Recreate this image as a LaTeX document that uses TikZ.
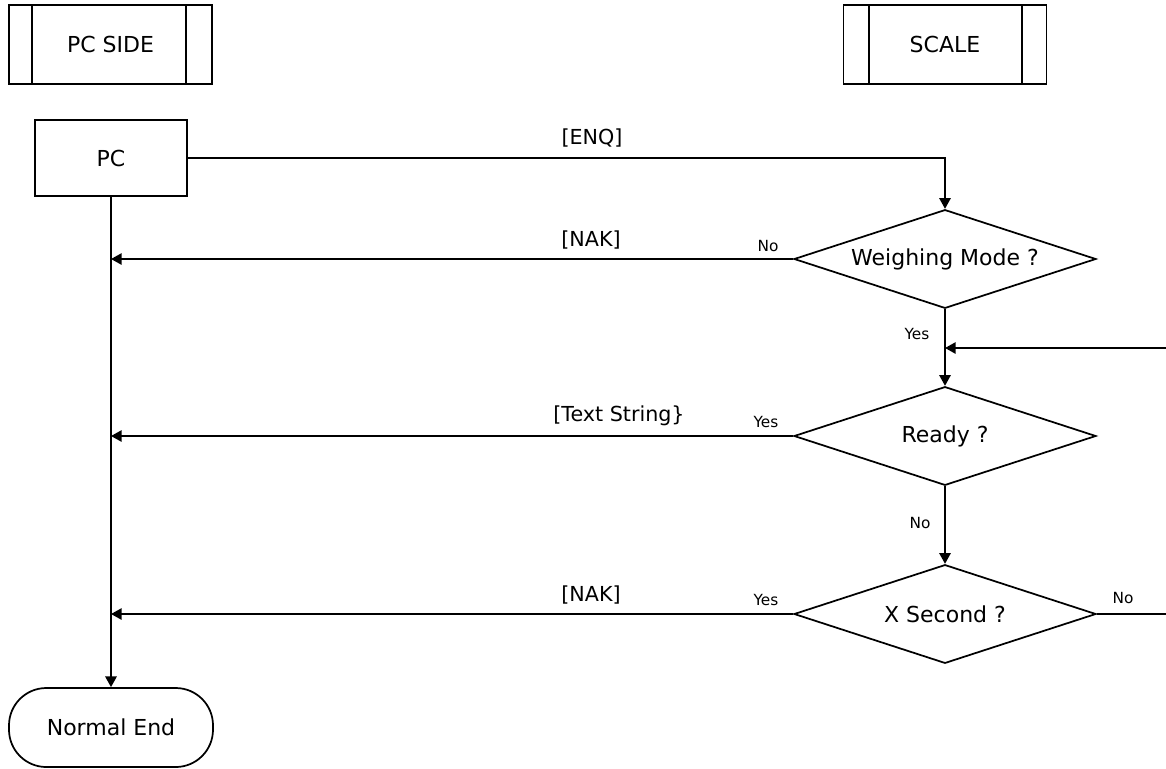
\documentclass[tikz,border=0pt]{standalone}
\usepackage{fontspec}
\setmainfont{DejaVu Sans}
\usetikzlibrary{arrows.meta,shapes.geometric,calc}
\begin{document}
\begin{tikzpicture}[x=0.75pt,y=-0.75pt,
  line width=1.3pt,
  every node/.style={inner sep=0pt},
  main/.style={font=\fontsize{16.5}{19}\selectfont},
  lbl/.style={font=\fontsize{15.5}{18}\selectfont},
  small/.style={font=\fontsize{11.5}{13}\selectfont},
  procbox/.style={draw,rectangle,minimum width=152.25pt,minimum height=59.25pt,main},
  plainbox/.style={draw,rectangle,minimum width=114pt,minimum height=57pt,main},
  dia/.style={draw,diamond,shape aspect=3,minimum width=226.5pt,minimum height=74pt,main},
  term/.style={draw,rectangle,rounded corners=28pt,minimum width=153pt,minimum height=59.25pt,main},
  arr/.style={-{Triangle[length=8pt,width=8.5pt]}}
]
\useasboundingbox (0,0) rectangle (1166,768);

% headers
\node[procbox] (pcside) at (110.5,44.5) {PC SIDE};
\draw ([xshift=18pt]pcside.north west) -- ([xshift=18pt]pcside.south west);
\draw ([xshift=-20pt]pcside.north east) -- ([xshift=-20pt]pcside.south east);
\node[procbox] (scale) at (945,44.5) {SCALE};
\draw ([xshift=20pt]scale.north west) -- ([xshift=20pt]scale.south west);
\draw ([xshift=-19pt]scale.north east) -- ([xshift=-19pt]scale.south east);

% nodes
\node[plainbox] (pc) at (111,158) {PC};
\node[dia] (wm) at (945,259) {Weighing Mode ?};
\node[dia] (rd) at (945,436) {Ready ?};
\node[dia] (xs) at (945,614) {X Second ?};
\node[term] (ne) at (111,727.5) {Normal End};

% helper coordinates
\coordinate (j1) at (pc.south |- wm.west);
\coordinate (j2) at (pc.south |- rd.west);
\coordinate (j3) at (pc.south |- xs.west);
\coordinate (loopin) at (1166,348);
\coordinate (loopout) at (1166,614);

% connectors
\draw[arr] (pc.east) -| (wm.north);
\draw[arr] (pc.south) -- (ne.north);
\draw[arr] (wm.west) -- (j1);
\draw[arr] (wm.south) -- (rd.north);
\draw[arr] (loopin) -- (loopin -| rd.north);
\draw[arr] (rd.west) -- (j2);
\draw[arr] (rd.south) -- (xs.north);
\draw[arr] (xs.west) -- (j3);
\draw (xs.east) -- (loopout);

% labels
\node[lbl] (lenq) at (592,138) {[ENQ]};
\node[lbl] (lnak1) at (591,240) {[NAK]};
\node[small] (lno1) at (768,246) {No};
\node[small] (lyes1) at (917,334) {Yes};
\node[lbl] (ltxt) at (619,416) {[Text String\}};
\node[small] (lyes2) at (766,422) {Yes};
\node[small] (lno2) at (920,523) {No};
\node[lbl] (lnak2) at (591,595) {[NAK]};
\node[small] (lyes3) at (766,600) {Yes};
\node[small] (lno3) at (1123,598) {No};
\end{tikzpicture}
\end{document}
